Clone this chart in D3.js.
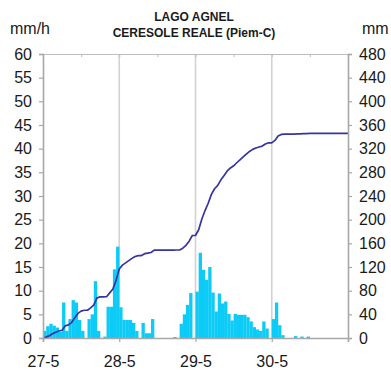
<!DOCTYPE html>
<html>
<head>
<meta charset="utf-8">
<script src="https://cdn.jsdelivr.net/npm/d3@7"></script>
<style>
  html, body { margin: 0; padding: 0; background: #fff; }
  svg { display: block; font-family: "Liberation Sans", Arial, sans-serif; }
</style>
</head>
<body>
<svg id="chart" width="391" height="374"></svg>
<script>
// Hourly rainfall (mm/h), one array of 24 values per day
const dayLabels = ["27-5", "28-5", "29-5", "30-5"];
const rain27 = [1.5, 2.5, 3.0, 2.6, 2.2, 1.3, 7.5, 1.5, 4.0, 8.0, 7.5, 3.8,
                1.5, 0, 4.0, 5.0, 12.0, 1.5, 0, 0.3, 6.6, 6.6, 14.5, 19.3];
const rain28 = [6.5, 3.8, 3.8, 3.8, 3.2, 1.5, 0, 3.2, 1.0, 1.0, 4.0, 0,
                0, 0, 0, 0, 0, 0.2, 0, 3.0, 5.0, 7.0, 9.5, 0];
const rain29 = [9.8, 18.0, 14.4, 12.3, 15.0, 9.6, 5.6, 9.4, 7.3, 7.7, 5.1, 3.7,
                5.1, 4.9, 4.9, 4.9, 4.4, 3.5, 2.3, 1.8, 1.5, 3.5, 2.0, 0];
const rain30 = [4.0, 7.5, 2.7, 0.6, 0, 0, 0, 0.4, 0, 0.3, 0, 0.3,
                0, 0, 0, 0, 0, 0, 0, 0, 0, 0, 0, 0];
const rateTicks = [0, 5, 10, 15, 20, 25, 30, 35, 40, 45, 50, 55, 60];
const totalTicks = [0, 40, 80, 120, 160, 200, 240, 280, 320, 360, 400, 440, 480];

const hourly = [].concat(rain27, rain28, rain29, rain30);
// running total in mm at each hour boundary, starting from zero
const cumulative = [0].concat(Array.from(d3.cumsum(hourly)));

const svg = d3.select("#chart");
const plotLeft = 43, plotRight = 348, plotTop = 54, plotBottom = 338;
const nHours = hourly.length;

const x = d3.scaleLinear().domain([0, nHours]).range([plotLeft, plotRight]);
const yRate = d3.scaleLinear().domain([0, 60]).range([plotBottom, plotTop]);
const yTotal = d3.scaleLinear().domain([0, 480]).range([plotBottom, plotTop]);

const axisGrey = "#a8a8a8";

// day separators
svg.append("g")
  .selectAll("line")
  .data([24, 48, 72])
  .join("line")
  .attr("x1", d => x(d)).attr("x2", d => x(d))
  .attr("y1", plotTop).attr("y2", plotBottom)
  .attr("stroke", "#d2d2d2")
  .attr("stroke-width", 1.6);

// top frame line with half-day ticks
const topAxis = svg.append("g")
  .attr("transform", `translate(0,${plotTop})`)
  .call(d3.axisBottom(x).tickValues(d3.range(0, nHours + 1, 12)).tickSize(3).tickFormat(""));
topAxis.select(".domain").attr("stroke", "#bdbdbd").attr("stroke-width", 1.2);
topAxis.selectAll(".tick line").attr("stroke", "#bdbdbd");

// hourly rainfall bars
svg.append("g")
  .selectAll("rect")
  .data(hourly)
  .join("rect")
  .attr("x", (d, i) => x(i))
  .attr("width", x(1) - x(0) + 0.15)
  .attr("y", d => yRate(d))
  .attr("height", d => yRate(0) - yRate(d))
  .attr("fill", "#0ccbf6");

// cumulative rainfall line
svg.append("path")
  .datum(cumulative)
  .attr("fill", "none")
  .attr("stroke", "#3434a2")
  .attr("stroke-width", 1.7)
  .attr("stroke-linejoin", "round")
  .attr("d", d3.line().x((d, i) => x(i)).y(d => yTotal(d)));

// left axis (mm/h)
const gl = svg.append("g")
  .attr("transform", `translate(${plotLeft},0)`)
  .call(d3.axisLeft(yRate).tickValues(rateTicks).tickSize(4).tickPadding(7));
// right axis (mm)
const gr = svg.append("g")
  .attr("transform", `translate(${plotRight},0)`)
  .call(d3.axisRight(yTotal).tickValues(totalTicks).tickSize(4).tickPadding(7));
// bottom axis (dates)
const gb = svg.append("g")
  .attr("transform", `translate(0,${plotBottom})`)
  .call(d3.axisBottom(x)
    .tickValues(d3.range(0, nHours + 1, 24))
    .tickSize(4).tickPadding(14)
    .tickFormat((d, i) => dayLabels[i] || ""));

[gl, gr, gb].forEach(g => {
  g.select(".domain").attr("stroke", axisGrey).attr("stroke-width", 1.6);
  g.selectAll(".tick line").attr("stroke", axisGrey).attr("stroke-width", 1.2);
  g.selectAll(".tick text")
    .attr("fill", "#1a1a1a")
    .style("font-size", "16px")
    .style("font-family", "'Liberation Sans', Arial, sans-serif");
});

// titles and units
svg.append("text")
  .attr("x", 194).attr("y", 21)
  .attr("text-anchor", "middle")
  .style("font-size", "12px").style("font-weight", "bold")
  .attr("fill", "#1a1a1a")
  .text("LAGO AGNEL");
svg.append("text")
  .attr("x", 194).attr("y", 37)
  .attr("text-anchor", "middle")
  .style("font-size", "12px").style("font-weight", "bold")
  .attr("fill", "#1a1a1a")
  .text("CERESOLE REALE (Piem-C)");
svg.append("text")
  .attr("x", 10).attr("y", 34)
  .style("font-size", "16px")
  .attr("fill", "#1a1a1a")
  .text("mm/h");
svg.append("text")
  .attr("x", 362).attr("y", 34)
  .style("font-size", "16px")
  .attr("fill", "#1a1a1a")
  .text("mm");
</script>
</body>
</html>
